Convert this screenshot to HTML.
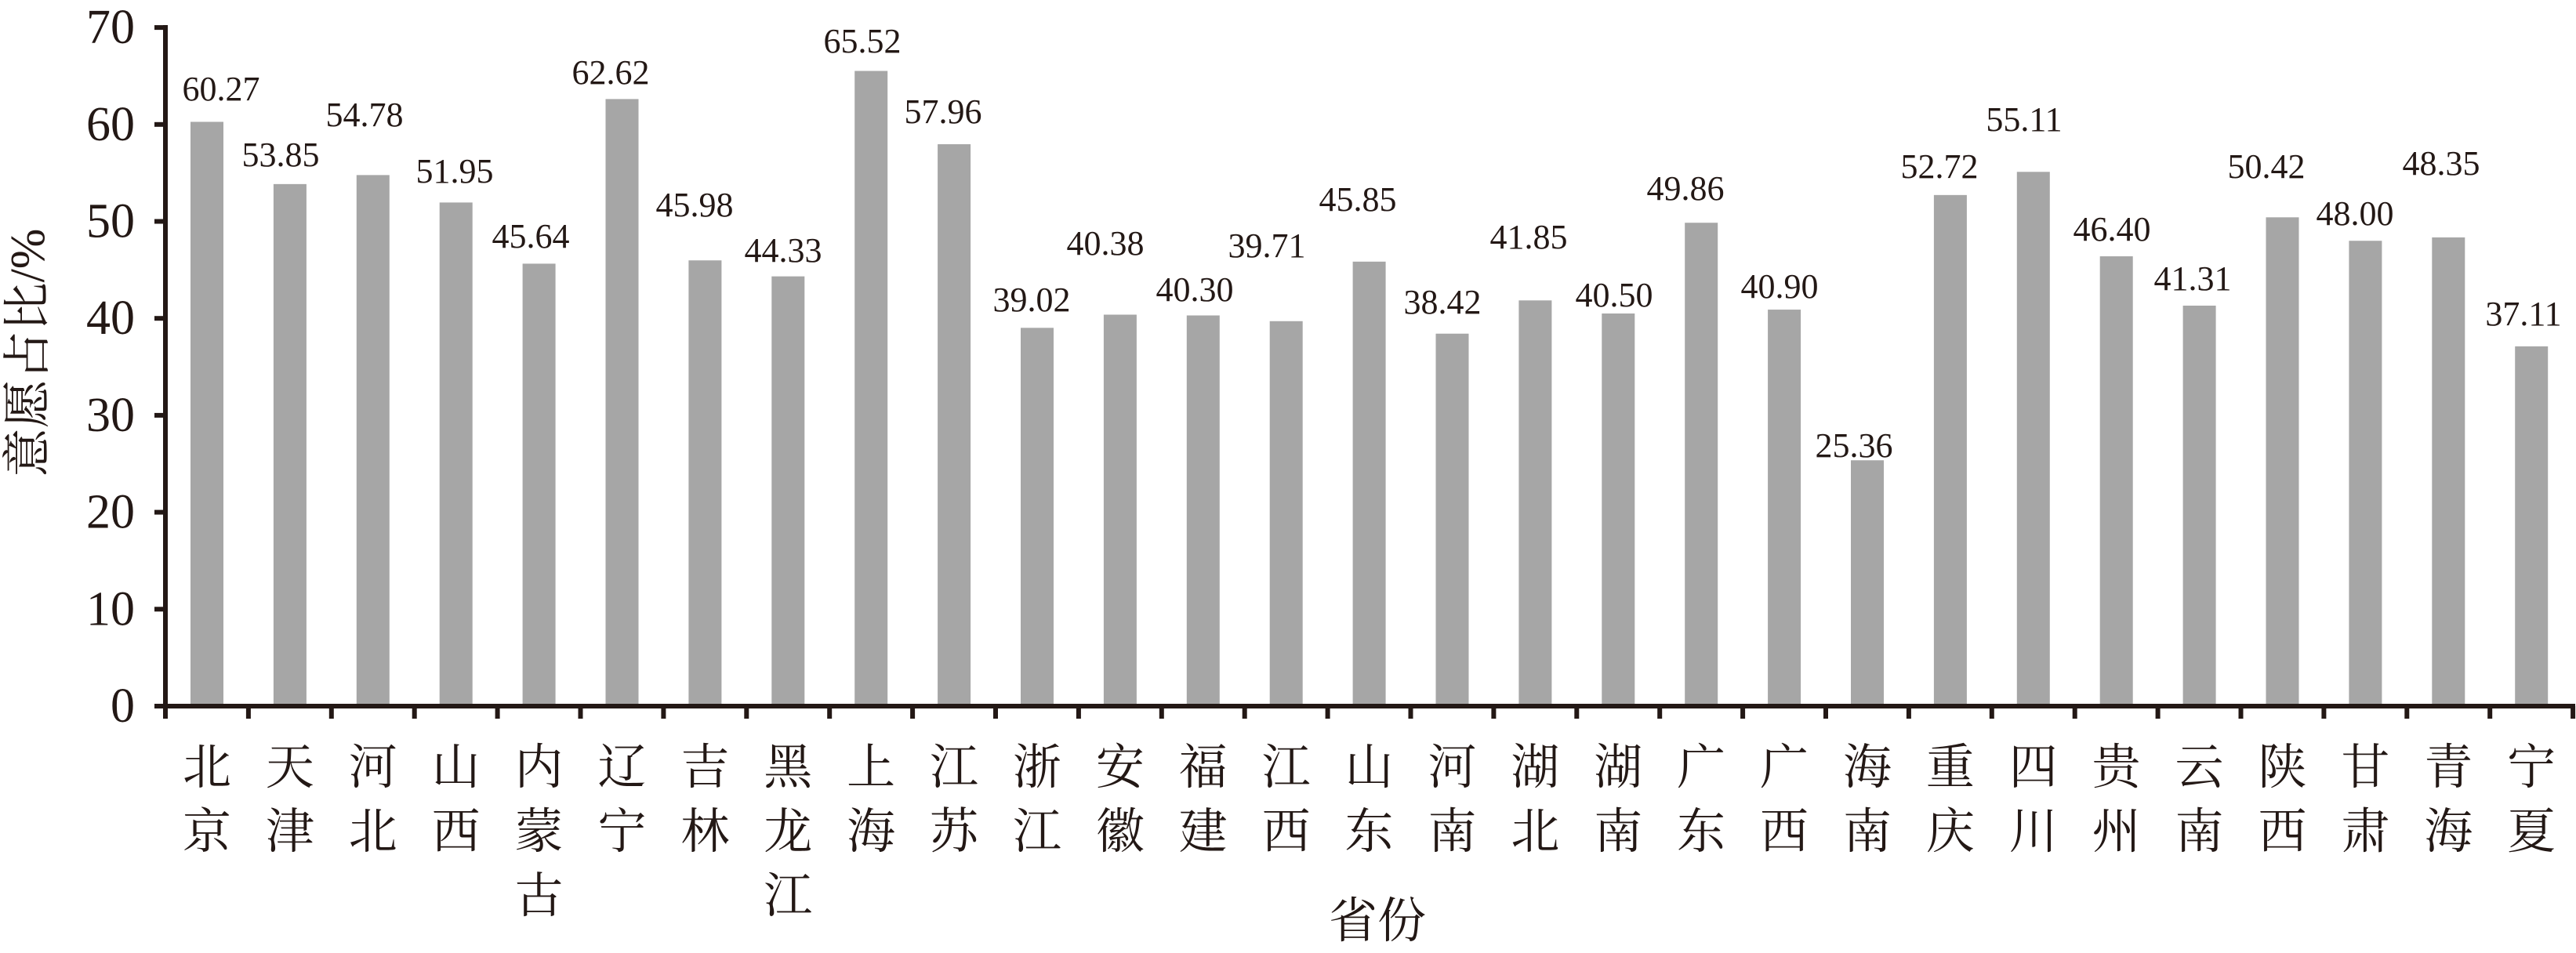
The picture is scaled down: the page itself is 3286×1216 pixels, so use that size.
<!DOCTYPE html>
<html><head><meta charset="utf-8"><style>
html,body{margin:0;padding:0;background:#fff;}
svg{display:block;}
.n{font-family:"Liberation Serif","Noto Serif CJK SC",serif;fill:#231815;}
.c{font-family:"Liberation Serif","Noto Serif CJK SC","Noto Sans CJK SC",serif;fill:#231815;}
</style></head><body>
<svg id="s" width="3286" height="1216" xmlns="http://www.w3.org/2000/svg"></svg>
<script>
(function(){
var s=document.getElementById('s');
var NS='http://www.w3.org/2000/svg';
function el(t,a,txt){var e=document.createElementNS(NS,t);for(var k in a)e.setAttribute(k,a[k]);if(txt!==undefined)e.textContent=txt;s.appendChild(e);return e;}
var vals=[60.27,53.85,54.78,51.95,45.64,62.62,45.98,44.33,65.52,57.96,39.02,40.38,40.30,39.71,45.85,38.42,41.85,40.50,49.86,40.90,25.36,52.72,55.11,46.40,41.31,50.42,48.00,48.35,37.11];
var names=["北京","天津","河北","山西","内蒙古","辽宁","吉林","黑龙江","上海","江苏","浙江","安徽","福建","江西","山东","河南","湖北","湖南","广东","广西","海南","重庆","四川","贵州","云南","陕西","甘肃","青海","宁夏"];
var lx=[282,358,465,580,677,779,886,999,1100,1203,1316,1410,1524,1616,1732,1840,1950,2059,2150,2270,2365,2474,2582,2694,2797,2891,3004,3114,3219];
var ly=[128,212,161,233,316,107,276,334,67,157,397,325,384,328,269,400,317,391,255,380,583,227,167,307,370,227,287,223,415];
var X0=211,W=105.9,Y0=901,U=12.37;
for(var i=0;i<vals.length;i++){
  var bx=X0+W*i+32, barTop=Y0-vals[i]*U;
  el('rect',{x:bx,y:barTop,width:42,height:Y0-barTop,fill:'#a6a6a6'});
  el('text',{x:lx[i],y:ly[i],'font-size':44,'text-anchor':'middle','class':'n'},vals[i].toFixed(2));
  var cx=X0+W*(i+0.5);
  for(var j=0;j<names[i].length;j++){
    el('text',{x:cx,y:980+82*j,'font-size':62,'text-anchor':'middle','dominant-baseline':'central','class':'c'},names[i][j]);
  }
}
el('rect',{x:208,y:32,width:6,height:885,fill:'#231815'});
el('rect',{x:197,y:898,width:3088,height:6,fill:'#231815'});
for(var k=0;k<=7;k++){
  var yy=Y0-k*10*U;
  el('rect',{x:197,y:yy-3,width:14,height:6,fill:'#231815'});
  el('text',{x:172,y:yy,'font-size':62,'text-anchor':'end','dominant-baseline':'central','class':'n'},String(k*10));
}
for(var k2=1;k2<=29;k2++){
  var tx=X0+W*k2;
  el('rect',{x:tx-3,y:901,width:6,height:16,fill:'#231815'});
}
el('text',{x:1757,y:1176,'font-size':62,'text-anchor':'middle','dominant-baseline':'central','class':'c'},'省份');
el('text',{x:0,y:0,'font-size':62,'text-anchor':'middle','dominant-baseline':'central','class':'c',transform:'translate(36,450) rotate(-90)'},'意愿占比/%');
})();
</script>
</body></html>
